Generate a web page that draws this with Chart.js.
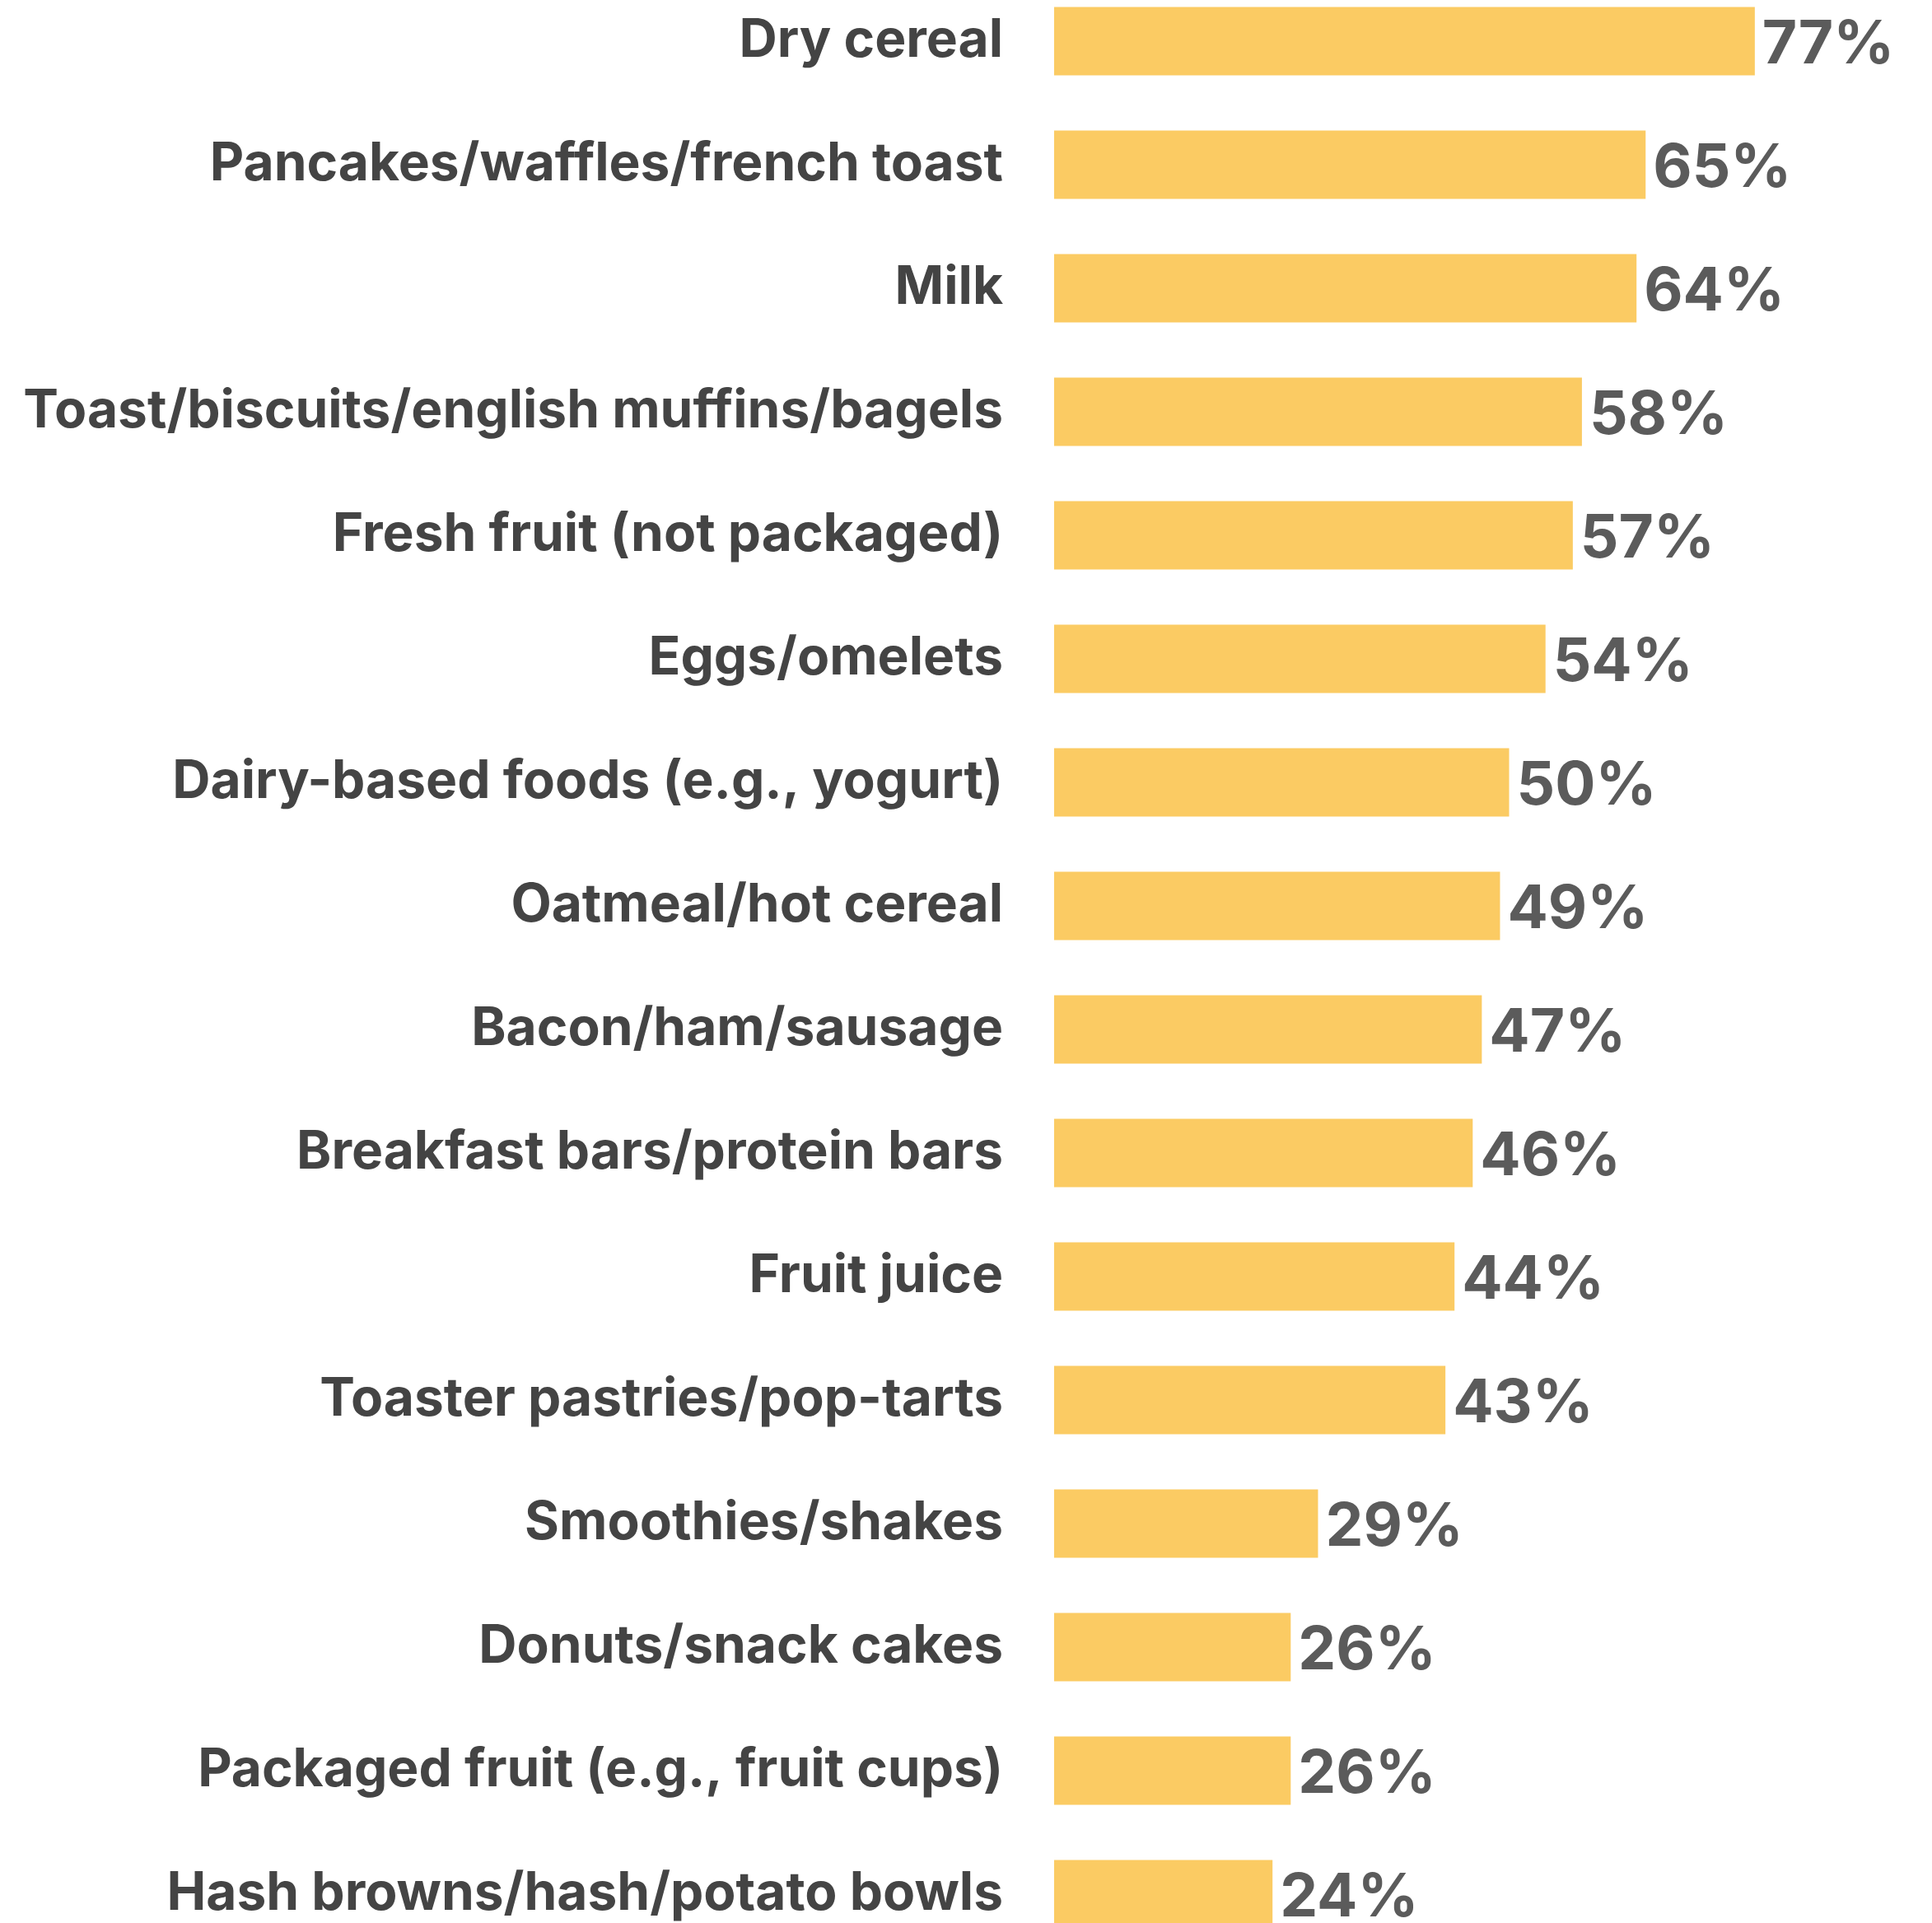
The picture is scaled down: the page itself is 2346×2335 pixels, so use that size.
<!DOCTYPE html>
<html lang="en">
<head>
  <meta charset="UTF-8">
  <title>Breakfast foods</title>
  <script src="https://cdn.jsdelivr.net/npm/chart.js"></script>
  <style>
    html, body { margin: 0; padding: 0; background: #fff; overflow: hidden; }
    body { width: 2346px; height: 2335px; position: relative; }
    #wrap { position: absolute; left: 0; top: -25px; width: 2385px; height: 2400px; }
  </style>
</head>
<body>
  <div id="wrap"><canvas id="myChart"></canvas></div>
  <script>
    // categories and shares (%)
    const categories = [
      'Dry cereal',
      'Pancakes/waffles/french toast',
      'Milk',
      'Toast/biscuits/english muffins/bagels',
      'Fresh fruit (not packaged)',
      'Eggs/omelets',
      'Dairy-based foods (e.g., yogurt)',
      'Oatmeal/hot cereal',
      'Bacon/ham/sausage',
      'Breakfast bars/protein bars',
      'Fruit juice',
      'Toaster pastries/pop-tarts',
      'Smoothies/shakes',
      'Donuts/snack cakes',
      'Packaged fruit (e.g., fruit cups)',
      'Hash browns/hash/potato bowls'
    ];
    const shares = [77, 65, 64, 58, 57, 54, 50, 49, 47, 46, 44, 43, 29, 26, 26, 24];

    // writes "NN%" just past the end of each bar
    const valueLabels = {
      id: 'valueLabels',
      afterDatasetsDraw(chart) {
        const ctx = chart.ctx;
        const meta = chart.getDatasetMeta(0);
        ctx.save();
        ctx.font = '700 73px Inter';
        ctx.fillStyle = '#5b5b5b';
        ctx.textAlign = 'left';
        ctx.textBaseline = 'alphabetic';
        meta.data.forEach((bar, i) => {
          ctx.fillText(shares[i] + '%', bar.x + 9, bar.y + 27);
        });
        ctx.restore();
      }
    };

    const ctx = document.getElementById('myChart').getContext('2d');
    new Chart(ctx, {
      type: 'bar',
      data: {
        labels: categories,
        datasets: [{
          data: shares,
          backgroundColor: '#fbcb63',
          borderWidth: 0,
          barPercentage: 0.553,
          categoryPercentage: 1
        }]
      },
      options: {
        indexAxis: 'y',
        responsive: true,
        maintainAspectRatio: false,
        animation: false,
        layout: { padding: 0 },
        plugins: {
          legend: { display: false },
          tooltip: { enabled: false }
        },
        scales: {
          x: {
            display: false,
            min: 0,
            max: 100
          },
          y: {
            grid: { display: false, drawTicks: false },
            border: { display: false },
            ticks: {
              color: '#444444',
              padding: 62,
              font: { family: 'Inter', weight: '700', size: 64 }
            },
            afterFit(scale) {
              // fixed label column, no extra room above/below the rows
              scale.width = 1280;
              scale.paddingTop = 0;
              scale.paddingBottom = 0;
            }
          }
        }
      },
      plugins: [valueLabels]
    });
  </script>
</body>
</html>
